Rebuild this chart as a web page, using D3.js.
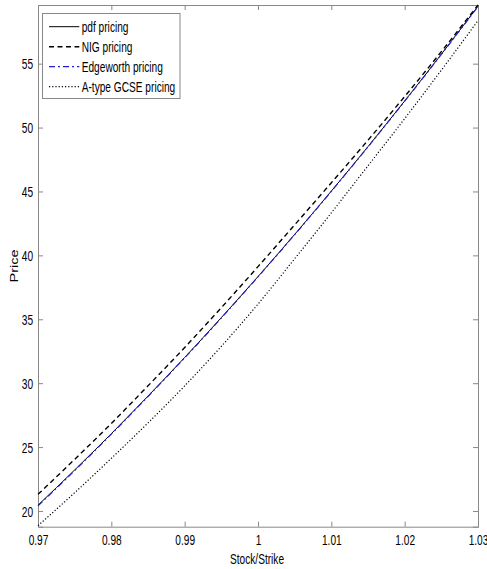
<!DOCTYPE html>
<html>
<head>
<meta charset="utf-8">
<script src="https://cdn.jsdelivr.net/npm/d3@7"></script>
<style>
  body { margin: 0; background: #fff; }
  text { font-family: "Liberation Sans", Arial, sans-serif; fill: #000; }
</style>
</head>
<body>
<div id="chart"></div>
<script>
var margin = { top: 5, right: 9, bottom: 42.3, left: 38 },
  width = 487 - margin.left - margin.right,
  height = 569 - margin.top - margin.bottom;
var squash = 0.7;

// stock/strike ratio
var moneyness = [0.97, 0.975, 0.98, 0.985, 0.99, 0.995, 1.0, 1.005, 1.01, 1.015, 1.02, 1.025, 1.03];
// prices
var pdfPrice = [20.45, 23.21, 26.05, 28.99, 32.01, 35.13, 38.34, 41.64, 45.03, 48.51, 52.08, 55.74, 59.49];
var nigPrice = [21.30, 24.04, 26.85, 29.79, 32.79, 35.91, 39.12, 42.39, 45.68, 49.01, 52.43, 55.94, 59.59];
var edgePrice = [20.40, 23.16, 26.01, 28.96, 31.98, 35.10, 38.32, 41.62, 45.01, 48.49, 52.06, 55.72, 59.47];
var gcsePrice = [18.85, 21.43, 24.12, 26.89, 29.79, 32.88, 36.19, 39.74, 43.33, 47.01, 50.70, 54.49, 58.37];

var xTicks = [0.97, 0.98, 0.99, 1, 1.01, 1.02, 1.03];
var xTickLabels = ["0.97", "0.98", "0.99", "1", "1.01", "1.02", "1.03"];
var yTicks = [20, 25, 30, 35, 40, 45, 50, 55];
var legendNames = ["pdf pricing", "NIG pricing", "Edgeworth pricing", "A-type GCSE pricing"];

var series = [
  { name: legendNames[0], values: pdfPrice, color: "#000", dash: null, w: 1 },
  { name: legendNames[1], values: nigPrice, color: "#000", dash: "5,3.5", w: 1.4 },
  { name: legendNames[2], values: edgePrice, color: "#2020d0", dash: "6,3,2,3", w: 1.2 },
  { name: legendNames[3], values: gcsePrice, color: "#000", dash: "1.2,2", w: 1.2 }
];

var xScale = d3.scaleLinear().domain([0.97, 1.03]).range([0, width]);
var yScale = d3.scaleLinear().domain([18.77, 59.59]).range([height, 0]);

var svg = d3.select("#chart").append("svg")
  .attr("width", 487)
  .attr("height", 569);
var chartGroup = svg.append("g").attr("transform", "translate(" + margin.left + "," + margin.top + ")");

var axisColor = "#888";

// bottom axis with labels
var xAxis = d3.axisBottom(xScale).tickValues(xTicks).tickSize(-5).tickPadding(0)
  .tickFormat(function (d, i) { return xTickLabels[i]; });
var gx = chartGroup.append("g").attr("transform", "translate(0," + height + ")").call(xAxis);
gx.selectAll("text").attr("y", 18.2).attr("dy", 0).attr("font-size", 14.5)
  .attr("transform", "scale(" + squash + ",1)");

// top axis, ticks only
var gxTop = chartGroup.append("g").call(d3.axisTop(xScale).tickValues(xTicks).tickSize(-5).tickFormat(""));

// left axis with labels
var yAxis = d3.axisLeft(yScale).tickValues(yTicks).tickSize(-5).tickPadding(0);
var gy = chartGroup.append("g").call(yAxis);
gy.selectAll("text").attr("x", -7).attr("dy", "0.35em").attr("font-size", 14.5)
  .attr("transform", "scale(" + squash + ",1)");

// right axis, ticks only
var gyRight = chartGroup.append("g").attr("transform", "translate(" + width + ",0)")
  .call(d3.axisRight(yScale).tickValues(yTicks).tickSize(-5).tickFormat(""));

[gx, gxTop, gy, gyRight].forEach(function (g) {
  g.select(".domain").attr("stroke", axisColor);
  g.selectAll(".tick line").attr("stroke", axisColor);
  g.attr("font-family", null);
});

// lines
var line = d3.line()
  .x(function (d, i) { return xScale(moneyness[i]); })
  .y(function (d) { return yScale(d); })
  .curve(d3.curveMonotoneX);

series.forEach(function (s) {
  chartGroup.append("path").datum(s.values)
    .attr("d", line)
    .attr("fill", "none")
    .attr("stroke", s.color)
    .attr("stroke-width", s.w)
    .attr("stroke-dasharray", s.dash);
});

// axis titles
svg.append("text")
  .attr("transform", "translate(257,563.5) scale(" + squash + ",1)")
  .attr("text-anchor", "middle")
  .attr("font-size", 14.5)
  .text("Stock/Strike");

svg.append("text")
  .attr("transform", "translate(18,266) scale(" + squash + ",1) rotate(-90)")
  .attr("text-anchor", "middle")
  .attr("font-size", 14.5)
  .text("Price");

// legend
var legend = svg.append("g").attr("transform", "translate(42.5,13.5)");
legend.append("rect")
  .attr("width", 137.5).attr("height", 85)
  .attr("fill", "#fff").attr("stroke", axisColor);

series.forEach(function (s, i) {
  var y = 13.2 + i * 20;
  legend.append("line")
    .attr("x1", 6.5).attr("x2", 36.8).attr("y1", y).attr("y2", y)
    .attr("stroke", s.color)
    .attr("stroke-width", s.w)
    .attr("stroke-dasharray", s.dash);
  legend.append("text")
    .attr("transform", "translate(39.2," + (y + 5) + ") scale(" + squash + ",1)")
    .attr("font-size", 14.5)
    .text(s.name);
});
</script>
</body>
</html>
